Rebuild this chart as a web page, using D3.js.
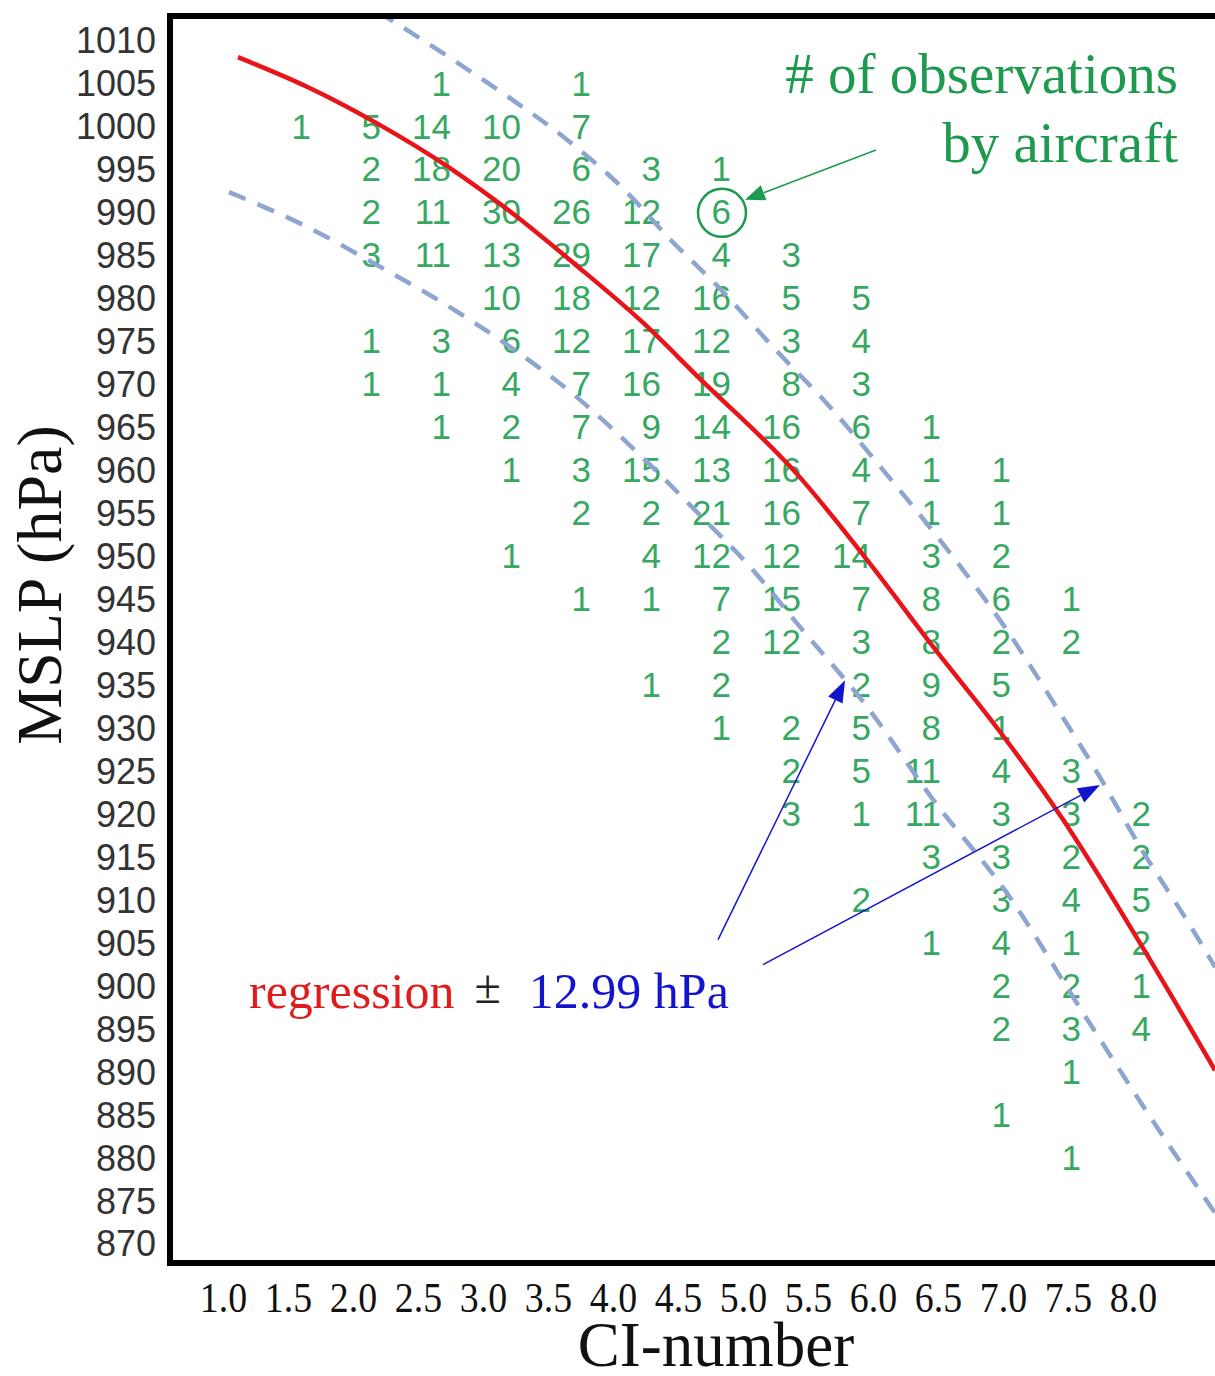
<!DOCTYPE html>
<html>
<head>
<meta charset="utf-8">
<script src="https://cdn.jsdelivr.net/npm/d3@7"></script>
<style>
  html, body { margin: 0; padding: 0; background: #fff; }
  svg { display: block; }
</style>
</head>
<body>
<svg id="chart" width="1215" height="1376"></svg>
<script>

// tick labels
var ciTicks = [1.0, 1.5, 2.0, 2.5, 3.0, 3.5, 4.0, 4.5, 5.0, 5.5, 6.0, 6.5, 7.0, 7.5, 8.0]
var hpaTicks = [1010, 1005, 1000, 995, 990, 985, 980, 975, 970, 965, 960, 955, 950, 945, 940,
                935, 930, 925, 920, 915, 910, 905, 900, 895, 890, 885, 880, 875, 870]

// columns of the count table (CI-number)
var colCI = [1.5, 2.0, 2.5, 3.0, 3.5, 4.0, 4.5, 5.0, 5.5, 6.0, 6.5, 7.0, 7.5]

// number of aircraft observations: [CI, MSLP, count]
var obsCounts = [
  [2.5,1005,1],[3.5,1005,1],
  [1.5,1000,1],[2.0,1000,5],[2.5,1000,14],[3.0,1000,10],[3.5,1000,7],
  [2.0,995,2],[2.5,995,18],[3.0,995,20],[3.5,995,6],[4.0,995,3],[4.5,995,1],
  [2.0,990,2],[2.5,990,11],[3.0,990,30],[3.5,990,26],[4.0,990,12],[4.5,990,6],
  [2.0,985,3],[2.5,985,11],[3.0,985,13],[3.5,985,29],[4.0,985,17],[4.5,985,4],[5.0,985,3],
  [3.0,980,10],[3.5,980,18],[4.0,980,12],[4.5,980,16],[5.0,980,5],[5.5,980,5],
  [2.0,975,1],[2.5,975,3],[3.0,975,6],[3.5,975,12],[4.0,975,17],[4.5,975,12],[5.0,975,3],[5.5,975,4],
  [2.0,970,1],[2.5,970,1],[3.0,970,4],[3.5,970,7],[4.0,970,16],[4.5,970,19],[5.0,970,8],[5.5,970,3],
  [2.5,965,1],[3.0,965,2],[3.5,965,7],[4.0,965,9],[4.5,965,14],[5.0,965,16],[5.5,965,6],[6.0,965,1],
  [3.0,960,1],[3.5,960,3],[4.0,960,15],[4.5,960,13],[5.0,960,16],[5.5,960,4],[6.0,960,1],[6.5,960,1],
  [3.5,955,2],[4.0,955,2],[4.5,955,21],[5.0,955,16],[5.5,955,7],[6.0,955,1],[6.5,955,1],
  [3.0,950,1],[4.0,950,4],[4.5,950,12],[5.0,950,12],[5.5,950,14],[6.0,950,3],[6.5,950,2],
  [3.5,945,1],[4.0,945,1],[4.5,945,7],[5.0,945,15],[5.5,945,7],[6.0,945,8],[6.5,945,6],[7.0,945,1],
  [4.5,940,2],[5.0,940,12],[5.5,940,3],[6.0,940,8],[6.5,940,2],[7.0,940,2],
  [4.0,935,1],[4.5,935,2],[5.5,935,2],[6.0,935,9],[6.5,935,5],
  [4.5,930,1],[5.0,930,2],[5.5,930,5],[6.0,930,8],[6.5,930,1],
  [5.0,925,2],[5.5,925,5],[6.0,925,11],[6.5,925,4],[7.0,925,3],
  [5.0,920,3],[5.5,920,1],[6.0,920,11],[6.5,920,3],[7.0,920,3],[7.5,920,2],
  [6.0,915,3],[6.5,915,3],[7.0,915,2],[7.5,915,2],
  [5.5,910,2],[6.5,910,3],[7.0,910,4],[7.5,910,5],
  [6.0,905,1],[6.5,905,4],[7.0,905,1],[7.5,905,2],
  [6.5,900,2],[7.0,900,2],[7.5,900,1],
  [6.5,895,2],[7.0,895,3],[7.5,895,4],
  [7.0,890,1],
  [6.5,885,1],
  [7.0,880,1]
]

// the circled cell
var highlightCell = [4.5, 990]

// regression curve and the +/- 12.99 hPa band: [CI, MSLP]
var regression = [
  [1.115,1008.0],[1.654,1004.5],[2.185,1000.3],[2.746,995.1],[3.246,989.6],[3.700,984.0],
  [4.231,977.1],[4.654,970.8],[5.438,959.1],[5.954,949.5],[6.462,939.4],[6.977,929.5],
  [7.438,919.8],[8.054,904.9],[8.631,890.1]
]
var upperBand = [
  [2.192,1013.3],[2.769,1007.7],[3.192,1003.4],[3.646,998.4],[4.092,992.5],[4.446,986.7],
  [4.808,981.3],[5.254,973.9],[5.669,967.3],[6.031,960.8],[6.592,950.3],[7.031,941.3],
  [7.438,931.7],[7.746,924.2],[8.054,916.1],[8.462,906.4],[8.631,902.1]
]
var lowerBand = [
  [1.046,992.3],[1.654,988.2],[2.162,984.0],[2.692,979.4],[3.169,974.7],[3.700,968.7],
  [4.262,960.9],[4.669,954.7],[5.054,948.7],[5.438,941.7],[5.954,932.4],[6.462,921.6],
  [7.031,910.7],[7.615,896.8],[8.131,884.7],[8.631,873.5]
]

var svg = d3.select("#chart")

// frame
var frame = {left: 170, top: 16, right: 1240, bottom: 1263}

var xScale = d3.scaleLinear().domain([1.0, 8.0]).range([223, 1133])
var colScale = d3.scalePoint().domain(colCI).range([300, 1140])
var yScale = d3.scaleLinear().domain([870, 1010]).range([1243, 40])

var green = "#36a862"
var darkGreen = "#1e9a4e"
var blue = "#1414cc"

svg.append("defs").append("clipPath")
    .attr("id", "plotClip")
  .append("rect")
    .attr("x", frame.left + 3)
    .attr("y", frame.top + 3)
    .attr("width", frame.right - frame.left - 6)
    .attr("height", frame.bottom - frame.top - 6)

// y axis labels
var yAxis = d3.axisLeft(yScale)
    .tickValues(hpaTicks)
    .tickSize(0)
    .tickPadding(0)
    .tickFormat(d3.format("d"))

var yG = svg.append("g")
    .attr("transform", "translate(156,0)")
    .call(yAxis)
yG.select(".domain").remove()
yG.selectAll("text")
    .attr("dy", "0.36em")
    .style("font-family", "'Liberation Sans', Arial, sans-serif")
    .style("font-size", "36px")
    .style("fill", "#333")

// x axis labels
var xAxis = d3.axisBottom(xScale)
    .tickValues(ciTicks)
    .tickSize(0)
    .tickPadding(0)
    .tickFormat(d3.format(".1f"))

var xG = svg.append("g")
    .attr("transform", "translate(0,1312)")
    .call(xAxis)
xG.select(".domain").remove()
xG.selectAll("text")
    .attr("y", 0)
    .attr("dy", 0)
    .attr("transform", "scale(0.88,1)")
    .style("font-family", "'Liberation Serif', 'Times New Roman', serif")
    .style("font-size", "43px")
    .style("fill", "#111")

// axis titles
svg.append("text")
    .attr("x", 716)
    .attr("y", 1366)
    .attr("text-anchor", "middle")
    .style("font-family", "'Liberation Serif', 'Times New Roman', serif")
    .style("font-size", "63px")
    .style("fill", "#111")
    .text("CI-number")

svg.append("text")
    .attr("transform", "translate(61,585) rotate(-90)")
    .attr("text-anchor", "middle")
    .style("font-family", "'Liberation Serif', 'Times New Roman', serif")
    .style("font-size", "64px")
    .style("fill", "#111")
    .text("MSLP (hPa)")

// count table
svg.append("g")
  .selectAll("text")
  .data(obsCounts)
  .enter().append("text")
    .attr("x", function(d){ return colScale(d[0]) + 11 })
    .attr("y", function(d){ return yScale(d[1]) })
    .attr("dy", "0.36em")
    .attr("text-anchor", "end")
    .style("font-family", "'Liberation Sans', Arial, sans-serif")
    .style("font-size", "35px")
    .style("fill", green)
    .text(function(d){ return d[2] })

// curves
var line = d3.line()
    .x(function(d){ return xScale(d[0]) })
    .y(function(d){ return yScale(d[1]) })
    .curve(d3.curveMonotoneX)

var curves = svg.append("g").attr("clip-path", "url(#plotClip)")

curves.selectAll(".band")
    .data([upperBand, lowerBand])
  .enter().append("path")
    .attr("class", "band")
    .attr("d", line)
    .attr("fill", "none")
    .attr("stroke", "#8ea5cf")
    .attr("stroke-width", 4.5)
    .attr("stroke-dasharray", "18,13")

curves.append("path")
    .datum(regression)
    .attr("d", line)
    .attr("fill", "none")
    .attr("stroke", "#e8141a")
    .attr("stroke-width", 4.5)

// frame
svg.append("rect")
    .attr("x", frame.left)
    .attr("y", frame.top)
    .attr("width", frame.right - frame.left)
    .attr("height", frame.bottom - frame.top)
    .attr("fill", "none")
    .attr("stroke", "#000")
    .attr("stroke-width", 6)

// arrows
function arrow(from, to, color, width, headLen, headWid){
    var x1 = xScale(from[0]), y1 = yScale(from[1])
    var x2 = xScale(to[0]), y2 = yScale(to[1])
    var a = Math.atan2(y2 - y1, x2 - x1)
    var bx = x2 - headLen * Math.cos(a), by = y2 - headLen * Math.sin(a)
    svg.append("line")
        .attr("x1", x1).attr("y1", y1)
        .attr("x2", bx).attr("y2", by)
        .attr("stroke", color)
        .attr("stroke-width", width)
    var px = -Math.sin(a) * headWid / 2, py = Math.cos(a) * headWid / 2
    svg.append("path")
        .attr("d", "M" + x2 + "," + y2 + "L" + (bx + px) + "," + (by + py) + "L" + (bx - px) + "," + (by - py) + "Z")
        .attr("fill", color)
}

// circled cell
svg.append("circle")
    .attr("cx", colScale(highlightCell[0]) + 2)
    .attr("cy", yScale(highlightCell[1]) + 1)
    .attr("r", 24)
    .attr("fill", "none")
    .attr("stroke", darkGreen)
    .attr("stroke-width", 2.5)

arrow([6.023, 997.2], [5.015, 991.4], darkGreen, 1.5, 20, 16)
arrow([4.808, 905.3], [5.785, 935.5], blue, 1.5, 22, 16)
arrow([5.154, 902.4], [7.746, 923.3], blue, 1.5, 22, 16)

// annotation texts
var obsNote = svg.append("text")
    .attr("text-anchor", "end")
    .style("font-family", "'Liberation Serif', 'Times New Roman', serif")
    .style("font-size", "57px")
    .style("fill", darkGreen)
obsNote.append("tspan")
    .attr("x", xScale(8.346)).attr("y", yScale(1003.8))
    .text("# of observations")
obsNote.append("tspan")
    .attr("x", xScale(8.346)).attr("y", yScale(995.8))
    .text("by aircraft")

var regNote = svg.append("text")
    .attr("x", xScale(1.2))
    .attr("y", yScale(897.4))
    .style("font-family", "'Liberation Serif', 'Times New Roman', serif")
    .style("font-size", "50px")
regNote.append("tspan")
    .style("fill", "#e01b1b")
    .text("regression")
regNote.append("tspan")
    .attr("dx", 20)
    .attr("dy", -5)
    .style("fill", "#222")
    .style("font-size", "48px")
    .text("±")
regNote.append("tspan")
    .attr("dx", 28)
    .attr("dy", 5)
    .style("fill", blue)
    .text("12.99 hPa")

</script>
</body>
</html>
